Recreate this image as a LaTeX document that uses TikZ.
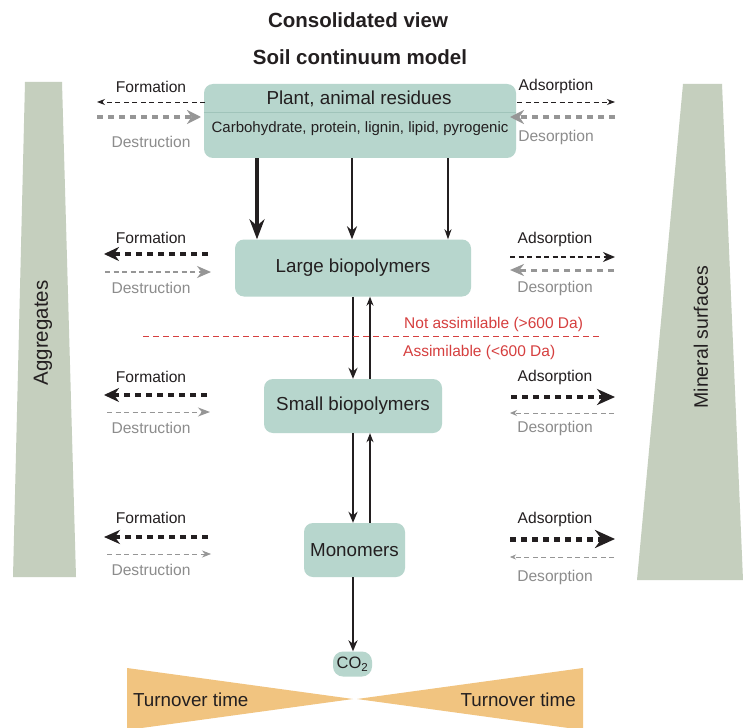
\documentclass[tikz,border=0pt]{standalone}
\usepackage{fontspec}
\setmainfont{Liberation Sans}
\usetikzlibrary{arrows.meta}
\definecolor{boxfill}{RGB}{183,214,205}
\definecolor{divcol}{RGB}{160,196,186}
\definecolor{barcol}{RGB}{197,207,190}
\definecolor{orangec}{RGB}{241,196,128}
\definecolor{redc}{RGB}{214,63,63}
\definecolor{grayarr}{RGB}{150,150,150}
\definecolor{graytxt}{RGB}{140,140,140}
\definecolor{ink}{RGB}{35,31,32}
\tikzset{
  box/.style={draw=none, fill=boxfill, rounded corners=9pt, inner sep=0pt},
  lbl/.style={font=\fontsize{18.8}{21}\selectfont, text=ink, inner sep=0pt},
  sublbl/.style={font=\fontsize{15}{17}\selectfont, text=ink, inner sep=0pt},
  side/.style={font=\fontsize{15.6}{18}\selectfont, text=ink, inner sep=0pt},
  sidegray/.style={side, text=graytxt},
  redlbl/.style={font=\fontsize{15.5}{18}\selectfont, text=redc, inner sep=0pt},
  ttl/.style={font=\bfseries\fontsize{20.5}{23}\selectfont, text=ink, inner sep=0pt},
  rotlbl/.style={font=\fontsize{19.5}{22}\selectfont, text=ink, inner sep=0pt, rotate=90},
  flowarr/.style n args={3}{line width=#1, draw=ink, -{Stealth[length=#2,width=#3]}},
  blk/.style n args={3}{line width=#1, draw=ink, dash pattern=on 5pt off 3.5pt, -{Stealth[length=#2,width=#3]}},
  gry/.style n args={3}{line width=#1, draw=grayarr, dash pattern=on 5pt off 3.5pt, -{Stealth[length=#2,width=#3]}},
}
\begin{document}
\begin{tikzpicture}[x=1pt,y=-1pt]
\useasboundingbox (0,0) rectangle (743,727);
\fill[white] (0,0) rectangle (743,727);

% titles
\node[ttl] (t1) at (358,20) {Consolidated view};
\node[ttl] (t2) at (360,57) {Soil continuum model};

% side bars
\fill[barcol] (25,82) -- (62,82) -- (76,577) -- (13,577) -- cycle;
\fill[barcol] (683,84) -- (722,84) -- (743,580) -- (637,580) -- cycle;
\node[rotlbl, font=\fontsize{20.5}{22}\selectfont] (agg) at (43,333) {Aggregates};
\node[rotlbl] (min) at (701,337) {Mineral surfaces};

% turnover triangles
\fill[orangec] (127,668) -- (353,699) -- (127,730) -- cycle;
\fill[orangec] (357,699) -- (583,668) -- (583,730) -- cycle;
\node[lbl, anchor=west] (tl) at (133,700) {Turnover time};
\node[lbl, anchor=east] (tr) at (576,700) {Turnover time};

% boxes
\node[box, minimum width=312pt, minimum height=74pt] (res) at (360,121) {};
\draw[divcol, line width=0.8pt] (res.west |- 0,112) -- (res.east |- 0,112);
\node[lbl] (resT) at (359,99) {Plant, animal residues};
\node[sublbl] (resS) at (360,129) {Carbohydrate, protein, lignin, lipid, pyrogenic};
\node[box, minimum width=236pt, minimum height=57pt] (lb) at (353,268) {};
\node[lbl] at (lb.center) {Large biopolymers};
\node[box, minimum width=178pt, minimum height=54pt] (sb) at (353,406) {};
\node[lbl] at (sb.center) {Small biopolymers};
\node[box, minimum width=101pt, minimum height=54pt] (mono) at (354.5,550) {};
\node[lbl] at (mono.center) {Monomers};
\node[box, rounded corners=10pt, minimum width=39pt, minimum height=25pt] (co2) at (352.5,664) {};
\node[lbl, font=\fontsize{16.5}{18}\selectfont] at (co2.center) {CO\textsubscript{2}};

% vertical flows
\draw[flowarr={4pt}{20pt}{15pt}] (res.south -| 257,0) -- (lb.north -| 257,0);
\draw[flowarr={2.4pt}{13pt}{10pt}] (res.south -| 352,0) -- (lb.north -| 352,0);
\draw[flowarr={1.3pt}{10pt}{7pt}] (res.south -| 448,0) -- (lb.north -| 448,0);
\draw[flowarr={2pt}{11pt}{9pt}] (lb.south -| 353,0) -- (sb.north -| 353,0);
\draw[flowarr={1.2pt}{9pt}{7pt}] (sb.north -| 370,0) -- (lb.south -| 370,0);
\draw[flowarr={2pt}{11pt}{9pt}] (sb.south -| 353,0) -- (mono.north -| 353,0);
\draw[flowarr={1.2pt}{9pt}{7pt}] (mono.north -| 370,0) -- (sb.south -| 370,0);
\draw[flowarr={2pt}{11pt}{9pt}] (mono.south -| 353,0) -- (co2.north -| 353,0);

% assimilable line
\draw[redc, line width=1pt, dash pattern=on 6pt off 4pt] (143,336) -- (600,336);
\node[redlbl, anchor=west] (na) at (404,324) {Not assimilable (>600 Da)};
\node[redlbl, anchor=west] (as) at (403,352) {Assimilable (<600 Da)};

% row 1
\node[side] at (151,87) {Formation};
\node[sidegray] at (151,142) {Destruction};
\draw[blk={0.9pt}{8pt}{6pt}] (205,102) -- (97,102);
\draw[gry={3.5pt}{14pt}{14pt}, dash pattern=on 6pt off 5pt] (97,117) -- (201,117);
\node[side] at (556,86) {Adsorption};
\node[sidegray] at (556,137) {Desorption};
\draw[blk={0.9pt}{8pt}{6pt}] (517,102) -- (615,102);
\draw[gry={3.5pt}{14pt}{14pt}, dash pattern=on 6pt off 5pt] (615,117) -- (510,117);

% row 2
\node[side] at (151,238) {Formation};
\node[sidegray] at (151,288) {Destruction};
\draw[blk={3.5pt}{15pt}{14pt}, dash pattern=on 6pt off 5pt] (208,254) -- (104,254);
\draw[gry={2pt}{14pt}{12pt}] (105,272) -- (211,272);
\node[side] at (555,239) {Adsorption};
\node[sidegray] at (555,288) {Desorption};
\draw[blk={1.5pt}{12pt}{10pt}] (510,257) -- (615,257);
\draw[gry={3pt}{14pt}{12pt}, dash pattern=on 6pt off 5pt] (614,270) -- (510,270);

% row 3
\node[side] at (151,377) {Formation};
\node[sidegray] at (151,428) {Destruction};
\draw[blk={3.5pt}{15pt}{14pt}, dash pattern=on 6pt off 5pt] (207,395) -- (104,395);
\draw[gry={1pt}{12pt}{9pt}] (107,412) -- (210,412);
\node[side] at (555,377) {Adsorption};
\node[sidegray] at (555,428) {Desorption};
\draw[blk={4pt}{18pt}{16pt}, dash pattern=on 6pt off 5pt] (511,397) -- (615,397);
\draw[gry={1pt}{7pt}{6pt}] (614,413) -- (510,413);

% row 4
\node[side] at (151,518) {Formation};
\node[sidegray] at (151,570) {Destruction};
\draw[blk={4pt}{16pt}{14pt}, dash pattern=on 6pt off 5pt] (208,537) -- (104,537);
\draw[gry={0.7pt}{9pt}{7pt}] (107,554) -- (211,554);
\node[side] at (555,519) {Adsorption};
\node[sidegray] at (555,577) {Desorption};
\draw[blk={5pt}{20pt}{18pt}, dash pattern=on 6pt off 5pt] (510,539) -- (615,539);
\draw[gry={0.6pt}{6pt}{5pt}] (614,557) -- (510,557);
\end{tikzpicture}
\end{document}
